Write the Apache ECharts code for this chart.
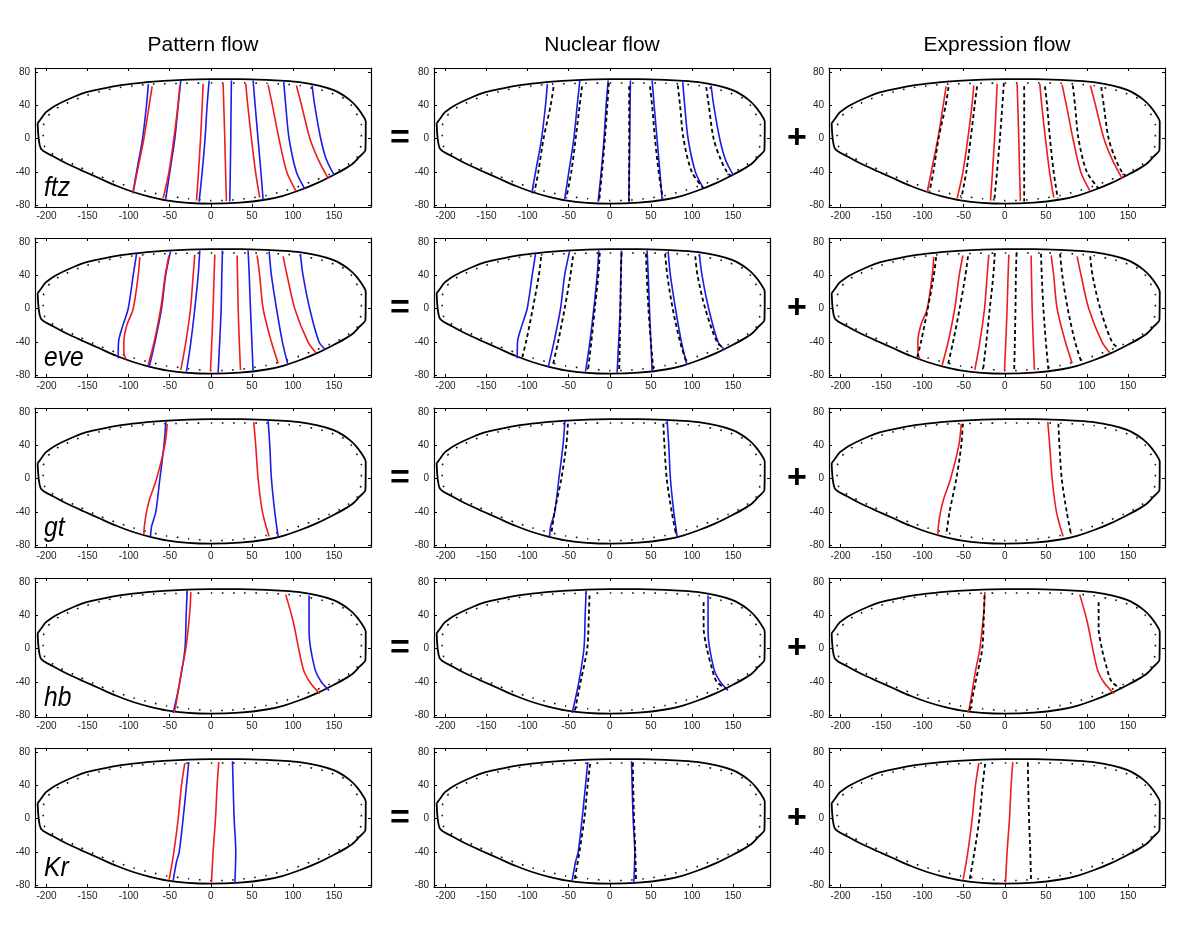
<!DOCTYPE html>
<html><head><meta charset="utf-8">
<script src="https://cdn.jsdelivr.net/npm/echarts@6/dist/echarts.min.js"></script>
<style>html,body{margin:0;padding:0;background:#fff}#c{width:1200px;height:940px}</style>
</head><body><div id="c"></div>
<script>
// ---------------- DATA ----------------
const columnTitles = ['Pattern flow', 'Nuclear flow', 'Expression flow'];
const genes = ['ftz', 'eve', 'gt', 'hb', 'Kr'];
const columnOperators = ['', '=', '+'];
const xTickValues = [-200, -150, -100, -50, 0, 50, 100, 150];
const yTickValues = [-80, -40, 0, 40, 80];

// embryo outline (solid) and inner dotted outline
const outerOutline = [[-210.8,18.6],[-206,25],[-202,30.6],[-195,36],[-187.7,40.6],[-172,48],[-155,54.8],[-135,59.5],[-114.7,63.6],[-95,66.2],[-74,68.4],[-40,70.4],[0,71.6],[35,71.6],[67.7,70.8],[90,69.6],[108,68],[130,64],[148.8,58.7],[160,53],[169,46.7],[177,39],[183.3,30.6],[188.6,20.5],[188.2,-13.6],[181,-21.5],[173,-29.7],[162,-36.8],[148.8,-43.8],[130,-53],[108,-61.9],[88,-68.5],[67.7,-73],[35,-76.8],[0,-78],[-28,-77],[-54,-74],[-75,-69.5],[-94.5,-64],[-115,-56.5],[-135,-47.8],[-155,-39],[-175.5,-29.7],[-192,-21],[-207,-11.6],[-210.8,18.6]];
const innerOutline = [[0,67],[35,67],[67.7,66.7],[90,65.5],[108,64],[125,60.5],[140.7,57],[155,51.5],[165,47],[172,39],[177,31],[183.3,17],[183.3,0],[182,-12],[179,-21],[171,-28],[161,-35],[145,-42.5],[128.5,-49.4],[108,-57],[88,-63],[68,-68],[47,-71.5],[20,-74],[0,-74.3],[-27,-72],[-54,-68.7],[-75,-64],[-94.5,-59],[-115,-52.5],[-135,-45],[-160,-34],[-184,-23],[-196,-16],[-202,-10],[-204,0],[-204,15],[-200,25],[-193,33],[-183.7,39],[-170,45],[-155,51],[-135,56.5],[-114.7,61],[-95,63.5],[-74,65.5],[-35,66.5],[-6,67]];

// stripe boundaries (each stripe: list of [x, y] from dorsal to ventral)
const ftzBlue = [
  [[-76,66],[-78.3,40],[-83.1,0],[-90.4,-40],[-95,-65.5]],
  [[-36.5,70],[-39.7,40],[-43.8,0],[-49.9,-40],[-55,-72.7]],
  [[-2,70],[-4.5,40],[-7,0],[-10.5,-40],[-14.2,-75.5]],
  [[25.1,70],[24.7,40],[24.3,0],[23.7,-40],[23.1,-75.5]],
  [[51.5,70],[54,40],[57.5,0],[61,-40],[63.7,-73.5]],
  [[88.8,68],[91.2,40],[95.3,0],[104.2,-40],[114.4,-60.2]],
  [[123.3,64],[126.5,40],[133.8,0],[140.7,-25],[150,-43.4]]
];
const ftzRed = [
  [[-71.4,63],[-75,40],[-81.5,0],[-89.6,-40],[-94.5,-64.7]],
  [[-37.7,64],[-40,40],[-45,0],[-51,-40],[-58,-71.5]],
  [[-9.3,66],[-10.5,40],[-12.5,0],[-15,-40],[-17.4,-74.3]],
  [[15,66],[15.8,40],[17,0],[18,-40],[19,-74.7]],
  [[42.6,66],[45,40],[49.5,0],[54.5,-40],[59.6,-70.7]],
  [[69.7,65],[75,40],[83,0],[92.5,-40],[103.4,-62.2]],
  [[104.2,64],[110.5,40],[120.7,0],[130.8,-25],[142.7,-47.4]]
];
const ftzDashed = [
  [[-68.5,62],[-72,40],[-80.7,0],[-87,-40],[-91.7,-63.5]],
  [[-33.8,63],[-36.7,40],[-41.6,0],[-46.9,-40],[-53,-71.5]],
  [[-1.2,67],[-3,40],[-6,0],[-9.5,-40],[-13,-75.5]],
  [[23.6,63],[23.6,40],[23.6,0],[23.6,-40],[23.6,-75.5]],
  [[48.9,63],[51.5,40],[55,0],[59.5,-40],[64.4,-71.5]],
  [[82.8,64],[85.5,40],[89.7,0],[99.9,-40],[114,-59.4]],
  [[117.4,62],[120.5,40],[126.4,0],[135,-25],[142.7,-40],[147.6,-44.6]]
];
const eveBlue = [
  [[-90.4,66],[-94.5,40],[-100.6,0],[-107,-20],[-112.3,-40],[-112.7,-59.4]],
  [[-49,69],[-55,40],[-60,0],[-68,-40],[-75,-70.3]],
  [[-13.4,70],[-15.4,40],[-19.5,0],[-24.3,-40],[-29.6,-75.5]],
  [[14.2,70],[13.4,40],[12.6,0],[10.8,-40],[8.9,-76.7]],
  [[45.4,70],[46.8,40],[48.3,0],[50,-40],[51.5,-75.5]],
  [[71,69],[73.8,40],[80,0],[87.2,-40],[94,-67.5]],
  [[109,66],[112.3,40],[120.4,0],[131.8,-40],[140,-49.4]]
];
const eveRed = [
  [[-86.4,62],[-88.4,40],[-94.5,0],[-102.6,-21],[-105.8,-40],[-105.8,-53],[-103.4,-60.6]],
  [[-51,64],[-55.5,40],[-61,0],[-69,-40],[-76.2,-67.5]],
  [[-19.5,65],[-21.5,40],[-24.7,0],[-30.4,-40],[-36.5,-73.5]],
  [[4.9,65],[4,40],[2.8,0],[1.2,-40],[-0.4,-74.3]],
  [[32,64],[32.5,40],[33.3,0],[34.7,-40],[36.1,-73.5]],
  [[56.4,64],[59.5,40],[63.7,0],[73.8,-40],[82,-65.5]],
  [[88,63],[92.9,40],[102.2,0],[118.4,-40],[128.5,-53.4]]
];
const eveDashed = [
  [[-83.6,62],[-86.4,40],[-93.8,0],[-102,-40],[-106.8,-59.4]],
  [[-44.8,63],[-48,40],[-55,0],[-63,-40],[-69.3,-67.5]],
  [[-12.2,67],[-14,40],[-18.3,0],[-22.5,-40],[-26.5,-73.5]],
  [[14.3,67],[13.5,40],[13,0],[12.2,-40],[11.4,-75.5]],
  [[44,66],[45,40],[47,0],[50,-40],[53,-72.7]],
  [[67.3,66],[70,40],[76.6,0],[85.6,-40],[93,-63.5]],
  [[104,63],[106.8,40],[116.2,0],[130.5,-40],[138.6,-47.4]]
];
const gtBlue = [
  [[-54.7,69],[-57,40],[-62,0],[-67,-40],[-72,-57],[-73.4,-69.5]],
  [[69.7,71],[71.8,40],[73.8,0],[77.9,-40],[82,-69.5]]
];
const gtRed = [
  [[-53,66],[-56,40],[-66,0],[-74.6,-25],[-78.3,-40],[-81,-58],[-81.5,-66.7]],
  [[52.3,68],[54.7,40],[57.6,0],[62.9,-40],[71,-69.5]]
];
const gtDashed = [
  [[-51,66],[-53,40],[-59,0],[-67.3,-40],[-71.3,-67.5]],
  [[65.2,66],[66.5,40],[69.3,0],[75.4,-40],[80.7,-67.5]]
];
const hbBlue = [
  [[-28.8,70],[-30,40],[-31.5,0],[-37.7,-40],[-45.8,-77]],
  [[119.6,64],[119.6,21],[126.5,-23.6],[134.6,-40],[144,-50]]
];
const hbRed = [
  [[-24.3,68],[-25.5,45],[-30.4,0],[-35.7,-27],[-42.6,-68],[-44.6,-76.4]],
  [[91.2,65],[100.2,33],[112.3,-23.6],[120.4,-40],[132.6,-54]]
];
const hbDashed = [
  [[-24.7,64],[-25.5,40],[-27.5,0],[-35.6,-40],[-42.5,-74.4]],
  [[114.2,56],[114.2,25],[118.2,0],[124.3,-23.6],[130.4,-40],[142.5,-48]]
];
const KrBlue = [
  [[-26.8,68],[-29.6,40],[-33.7,0],[-38.5,-40],[-41.8,-52],[-45.8,-74.4]],
  [[26.4,69],[27.2,40],[28.4,0],[30.4,-40],[29.2,-78.5]]
];
const KrRed = [
  [[-31.6,66.7],[-35.7,40],[-39.7,0],[-45,-40],[-50.7,-73.2]],
  [[9.7,68],[7.7,40],[5.7,0],[2.8,-40],[0.8,-76.4]]
];
const KrDashed = [
  [[-24,66],[-27,40],[-31,0],[-37,-40],[-43,-74]],
  [[28,67],[28.5,40],[29.5,0],[31,-40],[32,-76]]
];

// ---------------- LAYOUT / STYLE ----------------
const stripes = {
  ftz: {blue: ftzBlue, red: ftzRed, dashed: ftzDashed},
  eve: {blue: eveBlue, red: eveRed, dashed: eveDashed},
  gt: {blue: gtBlue, red: gtRed, dashed: gtDashed},
  hb: {blue: hbBlue, red: hbRed, dashed: hbDashed},
  Kr: {blue: KrBlue, red: KrRed, dashed: KrDashed}
};
const columnKinds = [['blue', 'red'], ['blue', 'dashed'], ['red', 'dashed']];
const kindStyle = {
  blue: {color: '#1c1ce6', width: 1.6, type: 'solid'},
  red: {color: '#ee1c1c', width: 1.6, type: 'solid'},
  dashed: {color: '#000', width: 1.8, type: [4, 3]}
};
const colLeft = [35, 434, 829];
const rowTop = [68, 238, 408, 578, 748];
const W = 336, H = 139;
const XMIN = -214, XMAX = 195, YMIN = -82, YMAX = 85;
const FONT = 'Liberation Sans, Arial, Helvetica, sans-serif';

const grids = [], xAxes = [], yAxes = [], series = [], graphics = [];
const axisLine = {show: true, onZero: false, lineStyle: {color: '#000', width: 1.2}};
const tick = (vals) => ({show: true, inside: true, length: 3, customValues: vals, lineStyle: {color: '#000', width: 1}});

genes.forEach((g, r) => {
  for (let c = 0; c < 3; c++) {
    const gi = grids.length;
    grids.push({left: colLeft[c], top: rowTop[r], width: W, height: H, containLabel: false});
    xAxes.push({gridIndex: gi, type: 'value', min: XMIN, max: XMAX, position: 'bottom',
      axisLine, axisTick: tick(xTickValues), splitLine: {show: false},
      axisLabel: {show: true, customValues: xTickValues, fontSize: 10, color: '#222', fontFamily: FONT, margin: 4}});
    xAxes.push({gridIndex: gi, type: 'value', min: XMIN, max: XMAX, position: 'top',
      axisLine, axisTick: tick(xTickValues), splitLine: {show: false}, axisLabel: {show: false}});
    yAxes.push({gridIndex: gi, type: 'value', min: YMIN, max: YMAX, position: 'left',
      axisLine, axisTick: tick(yTickValues), splitLine: {show: false},
      axisLabel: {show: true, customValues: yTickValues, fontSize: 10, color: '#222', fontFamily: FONT, margin: 5}});
    yAxes.push({gridIndex: gi, type: 'value', min: YMIN, max: YMAX, position: 'right',
      axisLine, axisTick: tick(yTickValues), splitLine: {show: false}, axisLabel: {show: false}});
    const xi = xAxes.length - 2, yi = yAxes.length - 2;
    const base = {type: 'line', xAxisIndex: xi, yAxisIndex: yi, showSymbol: false, symbol: 'none',
      silent: true, animation: false, clip: true};
    series.push(Object.assign({}, base, {data: outerOutline, smooth: 0.25,
      lineStyle: {color: '#000', width: 1.8}}));
    series.push(Object.assign({}, base, {data: innerOutline, smooth: 0.2,
      lineStyle: {color: '#111', width: 1.6, type: [1.6, 9.5], cap: 'butt'}}));
    columnKinds[c].forEach(kind => {
      stripes[g][kind].forEach(line => {
        series.push(Object.assign({}, base, {data: line, smooth: 0.3, lineStyle: kindStyle[kind]}));
      });
    });
    if (columnOperators[c]) {
      graphics.push({type: 'text', x: colLeft[c] - (c === 1 ? 34 : 32), y: rowTop[r] + H / 2 + 1,
        style: {text: columnOperators[c], font: 'bold 34px ' + FONT, fill: '#000', align: 'center', verticalAlign: 'middle'}});
    }
  }
  graphics.push({type: 'text', x: 44, y: rowTop[r] + 120, scaleX: 0.88,
    style: {text: g, font: 'italic 28px ' + FONT, fill: '#000', align: 'left', verticalAlign: 'middle'}});
});
columnTitles.forEach((t, c) => {
  graphics.push({type: 'text', x: colLeft[c] + W / 2, y: 45,
    style: {text: t, font: '21px ' + FONT, fill: '#000', align: 'center', verticalAlign: 'middle'}});
});

const chart = echarts.init(document.getElementById('c'), null, {renderer: 'canvas'});
chart.setOption({
  animation: false,
  backgroundColor: '#fff',
  grid: grids, xAxis: xAxes, yAxis: yAxes, series, graphic: graphics
});
</script>
</body></html>
